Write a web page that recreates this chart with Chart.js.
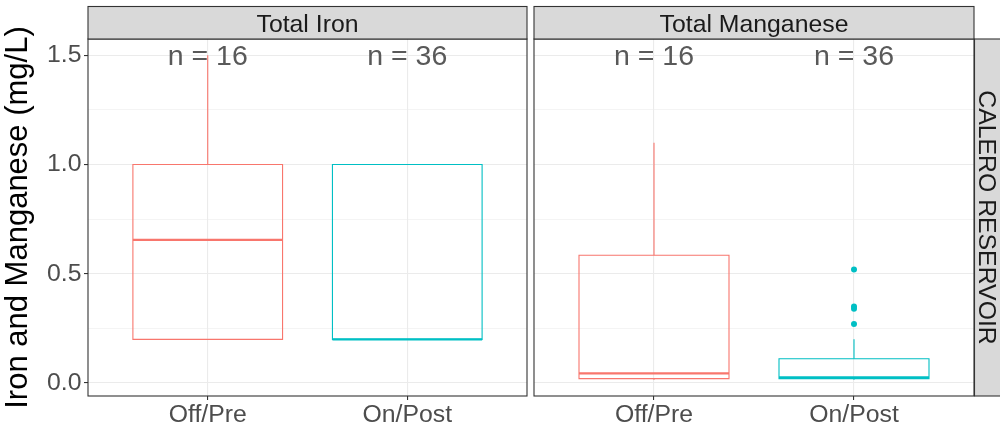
<!DOCTYPE html>
<html>
<head>
<meta charset="utf-8">
<script src="https://cdn.jsdelivr.net/npm/chart.js@4.4.1/dist/chart.umd.min.js"></script>
<style>
  html, body { margin: 0; padding: 0; background: #ffffff; }
  #wrap { position: relative; width: 1000px; height: 428px; overflow: hidden; background: #ffffff; }
  canvas { position: absolute; top: 0; }
  #ironCanvas { left: 0; }
  #mnCanvas { left: 530px; }
</style>
</head>
<body>
<div id="wrap">
  <canvas id="ironCanvas" width="530" height="428"></canvas>
  <canvas id="mnCanvas" width="470" height="428"></canvas>
</div>
<script>
// Categories and panel labels
const categories = ['Off/Pre', 'On/Post'];
const panelTitles = ['Total Iron', 'Total Manganese'];
const rowStrip = 'CALERO RESERVOIR';
const yTitle = 'Iron and Manganese (mg/L)';

// Tick values on the concentration axis
const yTicks = [0, 0.25, 0.5, 0.75, 1.0, 1.25, 1.5];
const yMajorTicks = [0, 0.5, 1.0, 1.5];

// Total iron box statistics (per category)
const ironLower = [0.2, 0.2];
const ironQ1 = [0.2, 0.2];
const ironMedian = [0.655, 0.2];
const ironQ3 = [1.0, 1.0];
const ironUpper = [1.5, 1.0];
const ironOutliers = [[], []];
const ironCounts = [16, 36];

// Total manganese box statistics (per category)
const mnLower = [0.015, 0.015];
const mnQ1 = [0.02, 0.02];
const mnMedian = [0.044, 0.026];
const mnQ3 = [0.585, 0.111];
const mnUpper = [1.1, 0.2];
const mnOutliers = [[], [0.27, 0.34, 0.35, 0.52]];
const mnCounts = [16, 36];

// Group colours
const groupColors = ['#F8766D', '#00BFC4'];

const FONT = '"Liberation Sans", Arial, Helvetica, sans-serif';
const Y_MIN = -0.0593;
const Y_MAX = 1.5743;
const BOX_HALF = 0.375;

function boxDatasets(lower, q1, med, q3, upper, outliers) {
  const sets = [];
  categories.forEach((cat, i) => {
    const c = i + 1;
    const col = groupColors[i];
    const line = { showLine: true, pointRadius: 0, pointHoverRadius: 0, fill: false, tension: 0,
                   borderColor: col, borderJoinStyle: 'miter', borderCapStyle: 'butt' };
    // box outline
    sets.push(Object.assign({}, line, { borderWidth: 1.1, data: [
      { x: c, y: q1[i] }, { x: c + BOX_HALF, y: q1[i] }, { x: c + BOX_HALF, y: q3[i] },
      { x: c - BOX_HALF, y: q3[i] }, { x: c - BOX_HALF, y: q1[i] }, { x: c, y: q1[i] }
    ] }));
    // whiskers
    if (upper[i] > q3[i]) {
      sets.push(Object.assign({}, line, { borderWidth: 1.1, data: [{ x: c, y: q3[i] }, { x: c, y: upper[i] }] }));
    }
    if (lower[i] < q1[i]) {
      sets.push(Object.assign({}, line, { borderWidth: 1.1, data: [{ x: c, y: lower[i] }, { x: c, y: q1[i] }] }));
    }
    // median
    sets.push(Object.assign({}, line, { borderWidth: 2.3, data: [{ x: c - BOX_HALF, y: med[i] }, { x: c + BOX_HALF, y: med[i] }] }));
    // outlying points
    if (outliers[i].length) {
      sets.push({ showLine: false, pointRadius: 3, pointHoverRadius: 3, borderWidth: 0,
                  backgroundColor: col, borderColor: col,
                  data: outliers[i].map(v => ({ x: c, y: v })) });
    }
  });
  return sets;
}

// Strip, panel border and count labels
function panelPlugin(title, counts, withRowStrip) {
  return {
    id: 'panelDecor',
    afterDatasetsDraw(chart) {
      const ctx = chart.ctx;
      const a = chart.chartArea;
      const xs = chart.scales.x, ys = chart.scales.y;
      ctx.save();
      // count labels
      ctx.fillStyle = '#595959';
      ctx.font = '28.5px ' + FONT;
      ctx.textAlign = 'center';
      ctx.textBaseline = 'alphabetic';
      counts.forEach((n, i) => {
        const px = xs.getPixelForValue(i + 1);
        const py = ys.getPixelForValue(1.5);
        ctx.fillText('n = ' + n, px, py + 0.358 * 28.5);
      });
      // panel border
      ctx.strokeStyle = '#333333';
      ctx.lineWidth = 1.1;
      ctx.strokeRect(a.left, a.top, a.right - a.left, a.bottom - a.top);
      // top strip
      const sTop = 6.5;
      ctx.fillStyle = '#D9D9D9';
      ctx.fillRect(a.left, sTop, a.right - a.left, a.top - sTop);
      ctx.strokeRect(a.left, sTop, a.right - a.left, a.top - sTop);
      ctx.fillStyle = '#1A1A1A';
      ctx.font = '24.8px ' + FONT;
      ctx.fillText(title, (a.left + a.right) / 2, (sTop + a.top) / 2 + 0.358 * 24.8);
      // right-hand row strip
      if (withRowStrip) {
        const sx = a.right + 0.5;
        ctx.fillStyle = '#D9D9D9';
        ctx.fillRect(sx, a.top, 40, a.bottom - a.top);
        ctx.strokeRect(sx, a.top, 40, a.bottom - a.top);
        ctx.fillStyle = '#1A1A1A';
        ctx.translate(a.right + 13.5, (a.top + a.bottom) / 2);
        ctx.rotate(Math.PI / 2);
        ctx.fillText(rowStrip, 0, 0.358 * 24.8);
      }
      ctx.restore();
    }
  };
}

function makeChart(canvasId, opts) {
  const showLabels = opts.showYLabels;
  return new Chart(document.getElementById(canvasId), {
    type: 'scatter',
    data: { datasets: opts.datasets },
    options: {
      responsive: false,
      animation: false,
      devicePixelRatio: 1,
      events: [],
      layout: { padding: { top: 39, right: opts.padRight, left: 0, bottom: 0 } },
      plugins: { legend: { display: false }, tooltip: { enabled: false } },
      scales: {
        x: {
          type: 'linear', min: 0.4, max: 2.6,
          afterBuildTicks: s => { s.ticks = categories.map((c, i) => ({ value: i + 1 })); },
          afterFit: s => { s.height = 32; },
          ticks: {
            autoSkip: false, maxRotation: 0, padding: 0,
            color: '#4D4D4D', font: { family: FONT, size: 24.8 },
            callback: v => categories[Math.round(v) - 1]
          },
          grid: { color: '#EBEBEB', lineWidth: 1.1, tickColor: '#333333', tickLength: 4, tickWidth: 1.1 },
          border: { display: false }
        },
        y: {
          type: 'linear', min: Y_MIN, max: Y_MAX,
          afterBuildTicks: s => { s.ticks = yTicks.map(v => ({ value: v })); },
          afterFit: s => { s.width = showLabels ? 88 : 4; },
          ticks: {
            display: showLabels, includeBounds: false, padding: 2.5,
            color: '#4D4D4D', font: { family: FONT, size: 24.8 },
            callback: v => yMajorTicks.some(m => Math.abs(m - v) < 1e-9) ? v.toFixed(1) : ''
          },
          title: {
            display: showLabels, text: yTitle, color: '#000000',
            font: { family: FONT, size: 31 }, padding: { top: 0, bottom: 0 }
          },
          grid: {
            color: '#EBEBEB',
            lineWidth: c => (c.tick && yMajorTicks.some(m => Math.abs(m - c.tick.value) < 1e-9)) ? 1.1 : 0.55,
            drawTicks: showLabels,
            tickLength: 4,
            tickWidth: c => (c.tick && yMajorTicks.some(m => Math.abs(m - c.tick.value) < 1e-9)) ? 1.1 : 0,
            tickColor: '#333333'
          },
          border: { display: false }
        }
      }
    },
    plugins: [panelPlugin(opts.title, opts.counts, opts.rowStrip)]
  });
}

makeChart('ironCanvas', {
  datasets: boxDatasets(ironLower, ironQ1, ironMedian, ironQ3, ironUpper, ironOutliers),
  title: panelTitles[0], counts: ironCounts, showYLabels: true, padRight: 3, rowStrip: false
});
makeChart('mnCanvas', {
  datasets: boxDatasets(mnLower, mnQ1, mnMedian, mnQ3, mnUpper, mnOutliers),
  title: panelTitles[1], counts: mnCounts, showYLabels: false, padRight: 26, rowStrip: true
});
</script>
</body>
</html>
